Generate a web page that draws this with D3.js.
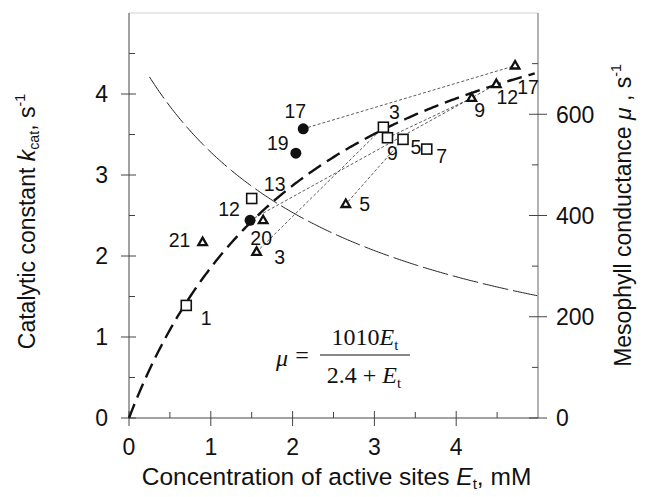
<!DOCTYPE html>
<html>
<head>
<meta charset="utf-8">
<script src="https://cdn.jsdelivr.net/npm/d3@7"></script>
<style>
  body { margin: 0; background: #fff; }
  svg { display: block; }
  text { font-family: "Liberation Sans", Arial, sans-serif; fill: #111; }
</style>
</head>
<body>
<svg id="chart" width="648" height="497"></svg>
<script>
// Leaves: concentration of active sites E_t (mM) and catalytic constant k_cat (s^-1),
// each marker labelled with leaf age.
const squareE = [0.70, 1.50, 3.11, 3.16, 3.35, 3.64];
const squareK = [1.39, 2.71, 3.59, 3.46, 3.44, 3.32];
const squareLabels = ["1", "13", "3", "9", "5", "7"];

const circleE = [2.13, 2.04, 1.48];
const circleK = [3.57, 3.27, 2.44];
const circleLabels = ["17", "19", "12"];

const triangleE = [1.64, 0.90, 1.56, 2.65, 4.19, 4.49, 4.72];
const triangleK = [2.44, 2.17, 2.05, 2.64, 3.95, 4.12, 4.35];
const triangleLabels = ["20", "21", "3", "5", "9", "12", "17"];

// Leaf ages measured in two groups, joined by dotted lines
const linkedLabels = ["17", "12", "3", "5", "9"];

// Axis ticks
const xTicks = [0, 1, 2, 3, 4];
const kTicks = [0, 1, 2, 3, 4];
const muTicks = [0, 200, 400, 600];

// Fitted curves: mu = a*E/(b+E) (right axis), k_cat = c/(b+E) (left axis)
const muFit = [1010, 2.4];
const kFit = [11.16, 2.4];

// ---------- layout ----------
const svg = d3.select("#chart");
const pLeft = 129, pRight = 538, pTop = 13, pBottom = 418;

const x = d3.scaleLinear().domain([0, 5]).range([pLeft, pRight]);
const y = d3.scaleLinear().domain([0, 5]).range([pBottom, pTop]);
const yMu = d3.scaleLinear().domain([0, 800]).range([pBottom, pTop]);

const axisColor = "#444";

// frame
svg.append("line").attr("x1", pLeft).attr("x2", pRight).attr("y1", pTop).attr("y2", pTop)
  .attr("stroke", "#bbb").attr("stroke-width", 0.7);
svg.append("line").attr("x1", pLeft).attr("x2", pLeft).attr("y1", pTop).attr("y2", pBottom)
  .attr("stroke", axisColor).attr("stroke-width", 1);
svg.append("line").attr("x1", pRight).attr("x2", pRight).attr("y1", pTop).attr("y2", pBottom)
  .attr("stroke", "#666").attr("stroke-width", 1);
svg.append("line").attr("x1", pLeft).attr("x2", pRight).attr("y1", pBottom).attr("y2", pBottom)
  .attr("stroke", axisColor).attr("stroke-width", 1);

// ticks
const halves = d3.range(1, 10).map(i => i * 0.5).filter(v => v % 1 !== 0);
const muMinor = [100, 300, 500, 700];
const tickG = svg.append("g").attr("stroke", axisColor).attr("stroke-width", 1);

kTicks.forEach(v => tickG.append("line")
  .attr("x1", pLeft - 8).attr("x2", pLeft + 7).attr("y1", y(v)).attr("y2", y(v)));
halves.forEach(v => tickG.append("line")
  .attr("x1", pLeft).attr("x2", pLeft + 6).attr("y1", y(v)).attr("y2", y(v)));

xTicks.forEach(v => tickG.append("line")
  .attr("x1", x(v)).attr("x2", x(v)).attr("y1", pBottom - 7).attr("y2", pBottom + 8));
halves.forEach(v => tickG.append("line")
  .attr("x1", x(v)).attr("x2", x(v)).attr("y1", pBottom - 6).attr("y2", pBottom));

muTicks.forEach(v => tickG.append("line")
  .attr("x1", pRight - 9).attr("x2", pRight + 9).attr("y1", yMu(v)).attr("y2", yMu(v)));
muMinor.forEach(v => tickG.append("line")
  .attr("x1", pRight - 6).attr("x2", pRight).attr("y1", yMu(v)).attr("y2", yMu(v)));

// tick labels
const tickFont = 23;
svg.append("g").selectAll("text").data(kTicks).join("text")
  .attr("x", pLeft - 21).attr("y", d => y(d)).attr("dy", "0.36em")
  .attr("text-anchor", "end").attr("font-size", tickFont).text(d => d);
svg.append("g").selectAll("text").data(xTicks).join("text")
  .attr("x", d => x(d)).attr("y", pBottom + 29).attr("dy", "0.36em")
  .attr("text-anchor", "middle").attr("font-size", tickFont).text(d => d);
svg.append("g").selectAll("text").data(muTicks).join("text")
  .attr("x", pRight + 18).attr("y", d => yMu(d)).attr("dy", "0.36em")
  .attr("text-anchor", "start").attr("font-size", tickFont).text(d => d);

// axis titles
const xTitleFont = 24.5;
const xTitle = svg.append("text").attr("x", (pLeft + pRight) / 2 + 3).attr("y", 485)
  .attr("text-anchor", "middle").attr("font-size", xTitleFont);
xTitle.append("tspan").text("Concentration of active sites ");
xTitle.append("tspan").attr("font-style", "italic").text("E");
xTitle.append("tspan").attr("font-size", xTitleFont * 0.62).attr("dy", 4).text("t");
xTitle.append("tspan").attr("dy", -4).text(", mM");

const yTitleFont = 23;
const kTitle = svg.append("text")
  .attr("transform", `translate(35,${(pTop + pBottom) / 2 + 6}) rotate(-90)`)
  .attr("text-anchor", "middle").attr("font-size", yTitleFont);
kTitle.append("tspan").text("Catalytic constant ");
kTitle.append("tspan").attr("font-style", "italic").text("k");
kTitle.append("tspan").attr("font-size", yTitleFont * 0.62).attr("dy", 4).text("cat");
kTitle.append("tspan").attr("dy", -4).text(", s");
kTitle.append("tspan").attr("font-size", yTitleFont * 0.62).attr("dy", -10).text("-1");

const muTitle = svg.append("text")
  .attr("transform", `translate(631,${(pTop + pBottom) / 2}) rotate(-90)`)
  .attr("text-anchor", "middle").attr("font-size", yTitleFont);
muTitle.append("tspan").text("Mesophyll conductance ");
muTitle.append("tspan").attr("font-style", "italic").text("\u03BC");
muTitle.append("tspan").text(" , s");
muTitle.append("tspan").attr("font-size", yTitleFont * 0.62).attr("dy", -10).text("-1");

// ---------- fitted curves ----------
const eThin = d3.range(0.25, 5.0001, 0.02);
const thinLine = d3.line().x(d => x(d)).y(d => y(kFit[0] / (kFit[1] + d)));
svg.append("path").attr("d", thinLine(eThin))
  .attr("fill", "none").attr("stroke", "#222").attr("stroke-width", 1)
  .attr("stroke-dasharray", "26,5");

const eBold = d3.range(0, 4.97, 0.02);
const boldLine = d3.line().x(d => x(d)).y(d => yMu(muFit[0] * d / (muFit[1] + d)));
svg.append("path").attr("d", boldLine(eBold))
  .attr("fill", "none").attr("stroke", "#111").attr("stroke-width", 2.4)
  .attr("stroke-dasharray", "15,7");

// ---------- points ----------
const squares = squareE.map((e, i) => ({ e, k: squareK[i], label: squareLabels[i], kind: "square" }));
const circles = circleE.map((e, i) => ({ e, k: circleK[i], label: circleLabels[i], kind: "circle" }));
const triangles = triangleE.map((e, i) => ({ e, k: triangleK[i], label: triangleLabels[i], kind: "triangle" }));
const allPoints = squares.concat(circles, triangles);

// dotted links between matching ages
const linkG = svg.append("g").attr("stroke", "#333").attr("stroke-width", 0.8)
  .attr("stroke-dasharray", "3,2");
linkedLabels.forEach(lab => {
  const pair = allPoints.filter(p => p.label === lab);
  if (pair.length === 2) {
    linkG.append("line")
      .attr("x1", x(pair[0].e)).attr("y1", y(pair[0].k))
      .attr("x2", x(pair[1].e)).attr("y2", y(pair[1].k));
  }
});

// markers
svg.append("g").selectAll("rect").data(squares).join("rect")
  .attr("x", d => x(d.e) - 5).attr("y", d => y(d.k) - 5)
  .attr("width", 10).attr("height", 10)
  .attr("fill", "#fff").attr("stroke", "#111").attr("stroke-width", 1.6);

svg.append("g").selectAll("circle").data(circles).join("circle")
  .attr("cx", d => x(d.e)).attr("cy", d => y(d.k)).attr("r", 5.5)
  .attr("fill", "#111");

const tri = (cx, cy) => {
  const s = 8.6, h = s * Math.sqrt(3) / 2;
  return `M${cx},${cy - h * 0.62}L${cx + s / 2},${cy + h * 0.38}L${cx - s / 2},${cy + h * 0.38}Z`;
};
svg.append("g").selectAll("path").data(triangles).join("path")
  .attr("d", d => tri(x(d.e), y(d.k)))
  .attr("fill", "#fff").attr("stroke", "#111").attr("stroke-width", 2.3)
  .attr("stroke-linejoin", "miter");

// point labels, offsets in px from the marker centre
const labelOffsets = {
  square: [[20, 13], [23, -15], [11, -15], [5, 15], [13, 8], [15, 7]],
  circle: [[-8, -18], [-18, -10], [-21, -11]],
  triangle: [[-2, 18], [-23, -2], [23, 5], [19, 0], [8, 12], [11, 13], [13, 21]]
};
const groups = { square: squares, circle: circles, triangle: triangles };
Object.keys(groups).forEach(kind => {
  svg.append("g").selectAll("text").data(groups[kind]).join("text")
    .attr("x", (d, i) => x(d.e) + labelOffsets[kind][i][0])
    .attr("y", (d, i) => y(d.k) + labelOffsets[kind][i][1])
    .attr("dy", "0.36em").attr("text-anchor", "middle")
    .attr("font-size", 19.5).text(d => d.label);
});

// ---------- equation ----------
const eqFont = 24;
const serif = "'Liberation Serif', 'Times New Roman', serif";
const eq = svg.append("g");
eq.append("text").attr("x", 282).attr("y", 366).attr("text-anchor", "middle")
  .attr("font-size", eqFont).attr("font-style", "italic")
  .style("font-family", serif).text("\u03BC");
eq.append("text").attr("x", 302).attr("y", 363).attr("text-anchor", "middle")
  .attr("font-size", eqFont).style("font-family", serif).text("=");
eq.append("line").attr("x1", 320).attr("x2", 410).attr("y1", 355).attr("y2", 355)
  .attr("stroke", "#111").attr("stroke-width", 1.2);
const num = eq.append("text").attr("x", 365).attr("y", 345).attr("text-anchor", "middle")
  .attr("font-size", eqFont).style("font-family", serif);
num.append("tspan").text("1010");
num.append("tspan").attr("font-style", "italic").text("E");
num.append("tspan").attr("font-size", eqFont * 0.62).attr("dy", 5).text("t");
const den = eq.append("text").attr("x", 364).attr("y", 383).attr("text-anchor", "middle")
  .attr("font-size", eqFont).style("font-family", serif);
den.append("tspan").text("2.4 + ");
den.append("tspan").attr("font-style", "italic").text("E");
den.append("tspan").attr("font-size", eqFont * 0.62).attr("dy", 5).text("t");
</script>
</body>
</html>
